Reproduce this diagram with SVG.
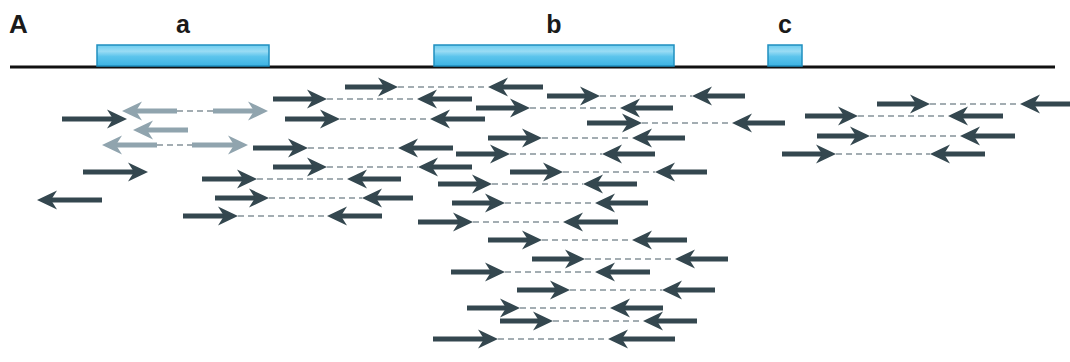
<svg xmlns="http://www.w3.org/2000/svg" width="1070" height="362" viewBox="0 0 1070 362">
  <style>
    .label { font-family: "Liberation Sans", Arial, sans-serif; font-weight: bold; fill: #1a1a1a; }
    .exon { fill: url(#exonFill); stroke: #1f8fbf; stroke-width: 1.5; }
    .axis { stroke: #111; stroke-width: 3; }
    .gap { stroke: #a3adb2; stroke-width: 2.2; stroke-dasharray: 6 4; fill: none; }
    .read { stroke: #34474f; stroke-width: 5; marker-end: url(#headDark); }
    .read.faint { stroke: #90a4ae; marker-end: url(#headFaint); }
  </style>
  <defs>
    <linearGradient id="exonFill" x1="0" y1="0" x2="0" y2="1">
      <stop offset="0" stop-color="#6ccdf0"/>
      <stop offset="0.3" stop-color="#9adcf4"/>
      <stop offset="0.55" stop-color="#5cc4ec"/>
      <stop offset="1" stop-color="#3db3e2"/>
    </linearGradient>
    <!-- barbed arrowhead; the shaft stops 12px short of the tip -->
    <marker id="headDark" viewBox="0 0 20 20" refX="8" refY="10" markerWidth="20" markerHeight="20" markerUnits="userSpaceOnUse" orient="auto">
      <path d="M0,0.5 L20,10 L0,19.5 L6,10 Z" fill="#34474f"/>
    </marker>
    <marker id="headFaint" viewBox="0 0 20 20" refX="8" refY="10" markerWidth="20" markerHeight="20" markerUnits="userSpaceOnUse" orient="auto">
      <path d="M0,0.5 L20,10 L0,19.5 L6,10 Z" fill="#90a4ae"/>
    </marker>
  </defs>

  <rect width="1070" height="362" fill="#ffffff"/>

  <text class="label" x="9" y="33" font-size="26">A</text>

  <line class="axis" x1="10" y1="67" x2="1055" y2="67"/>

  <g id="exon-a">
    <rect class="exon" x="97" y="45" width="172" height="21"/>
    <text class="label" x="183" y="33" font-size="25" text-anchor="middle">a</text>
  </g>
  <g id="exon-b">
    <rect class="exon" x="434" y="45" width="240" height="21"/>
    <text class="label" x="554" y="33" font-size="25" text-anchor="middle">b</text>
  </g>
  <g id="exon-c">
    <rect class="exon" x="768" y="45" width="34" height="21"/>
    <text class="label" x="785" y="33" font-size="25" text-anchor="middle">c</text>
  </g>

  <g id="reads">
    <!-- insert gaps between mates -->
    <g id="gaps">
      <line class="gap" x1="398" y1="87" x2="488" y2="87"/>
      <line class="gap" x1="600" y1="96" x2="692" y2="96"/>
      <line class="gap" x1="327" y1="99" x2="417" y2="99"/>
      <line class="gap" x1="530" y1="108" x2="620" y2="108"/>
      <line class="gap" x1="340" y1="119" x2="430" y2="119"/>
      <line class="gap" x1="642" y1="123" x2="732" y2="123"/>
      <line class="gap" x1="542" y1="138" x2="632" y2="138"/>
      <line class="gap" x1="308" y1="148" x2="398" y2="148"/>
      <line class="gap" x1="510" y1="154" x2="602" y2="154"/>
      <line class="gap" x1="327" y1="167" x2="418" y2="167"/>
      <line class="gap" x1="563" y1="172" x2="655" y2="172"/>
      <line class="gap" x1="257" y1="179" x2="347" y2="179"/>
      <line class="gap" x1="492" y1="184" x2="583" y2="184"/>
      <line class="gap" x1="269" y1="198" x2="362" y2="198"/>
      <line class="gap" x1="505" y1="203" x2="595" y2="203"/>
      <line class="gap" x1="238" y1="216" x2="327" y2="216"/>
      <line class="gap" x1="473" y1="222" x2="563" y2="222"/>
      <line class="gap" x1="542" y1="240" x2="632" y2="240"/>
      <line class="gap" x1="585" y1="259" x2="675" y2="259"/>
      <line class="gap" x1="505" y1="272" x2="595" y2="272"/>
      <line class="gap" x1="570" y1="290" x2="662" y2="290"/>
      <line class="gap" x1="520" y1="308" x2="610" y2="308"/>
      <line class="gap" x1="553" y1="321" x2="643" y2="321"/>
      <line class="gap" x1="498" y1="339" x2="608" y2="339"/>
      <line class="gap" x1="930" y1="104" x2="1020" y2="104"/>
      <line class="gap" x1="858" y1="116" x2="948" y2="116"/>
      <line class="gap" x1="870" y1="136" x2="960" y2="136"/>
      <line class="gap" x1="836" y1="154" x2="930" y2="154"/>
      <line class="gap" x1="177" y1="111" x2="213" y2="111"/>
      <line class="gap" x1="157" y1="145" x2="192" y2="145"/>
    </g>

    <!-- forward mates (shaft end = tip - 12) -->
    <g id="forward">
      <line class="read" x1="345" y1="87" x2="386" y2="87"/>
      <line class="read" x1="547" y1="96" x2="588" y2="96"/>
      <line class="read" x1="273" y1="99" x2="315" y2="99"/>
      <line class="read" x1="476" y1="108" x2="518" y2="108"/>
      <line class="read" x1="285" y1="119" x2="328" y2="119"/>
      <line class="read" x1="587" y1="123" x2="630" y2="123"/>
      <line class="read" x1="488" y1="138" x2="530" y2="138"/>
      <line class="read" x1="253" y1="148" x2="296" y2="148"/>
      <line class="read" x1="456" y1="154" x2="498" y2="154"/>
      <line class="read" x1="273" y1="167" x2="315" y2="167"/>
      <line class="read" x1="510" y1="172" x2="551" y2="172"/>
      <line class="read" x1="202" y1="179" x2="245" y2="179"/>
      <line class="read" x1="438" y1="184" x2="480" y2="184"/>
      <line class="read" x1="215" y1="198" x2="257" y2="198"/>
      <line class="read" x1="452" y1="203" x2="493" y2="203"/>
      <line class="read" x1="183" y1="216" x2="226" y2="216"/>
      <line class="read" x1="418" y1="222" x2="461" y2="222"/>
      <line class="read" x1="488" y1="240" x2="530" y2="240"/>
      <line class="read" x1="532" y1="259" x2="573" y2="259"/>
      <line class="read" x1="451" y1="272" x2="493" y2="272"/>
      <line class="read" x1="517" y1="290" x2="558" y2="290"/>
      <line class="read" x1="467" y1="308" x2="508" y2="308"/>
      <line class="read" x1="500" y1="321" x2="541" y2="321"/>
      <line class="read" x1="433" y1="339" x2="486" y2="339"/>
      <line class="read" x1="877" y1="104" x2="918" y2="104"/>
      <line class="read" x1="805" y1="116" x2="846" y2="116"/>
      <line class="read" x1="817" y1="136" x2="858" y2="136"/>
      <line class="read" x1="782" y1="154" x2="824" y2="154"/>
      <line class="read" x1="62" y1="119" x2="115" y2="119"/>
      <line class="read" x1="83" y1="172" x2="136" y2="172"/>
      <line class="read faint" x1="213" y1="111" x2="256" y2="111"/>
      <line class="read faint" x1="192" y1="145" x2="236" y2="145"/>
    </g>

    <!-- reverse mates (shaft end = tip + 12) -->
    <g id="reverse">
      <line class="read" x1="543" y1="87" x2="500" y2="87"/>
      <line class="read" x1="745" y1="96" x2="704" y2="96"/>
      <line class="read" x1="472" y1="99" x2="429" y2="99"/>
      <line class="read" x1="673" y1="108" x2="632" y2="108"/>
      <line class="read" x1="485" y1="119" x2="442" y2="119"/>
      <line class="read" x1="785" y1="123" x2="744" y2="123"/>
      <line class="read" x1="685" y1="138" x2="644" y2="138"/>
      <line class="read" x1="453" y1="148" x2="410" y2="148"/>
      <line class="read" x1="655" y1="154" x2="614" y2="154"/>
      <line class="read" x1="472" y1="167" x2="430" y2="167"/>
      <line class="read" x1="707" y1="172" x2="667" y2="172"/>
      <line class="read" x1="401" y1="179" x2="359" y2="179"/>
      <line class="read" x1="637" y1="184" x2="595" y2="184"/>
      <line class="read" x1="413" y1="198" x2="374" y2="198"/>
      <line class="read" x1="648" y1="203" x2="607" y2="203"/>
      <line class="read" x1="382" y1="216" x2="339" y2="216"/>
      <line class="read" x1="618" y1="222" x2="575" y2="222"/>
      <line class="read" x1="687" y1="240" x2="644" y2="240"/>
      <line class="read" x1="728" y1="259" x2="687" y2="259"/>
      <line class="read" x1="650" y1="272" x2="607" y2="272"/>
      <line class="read" x1="715" y1="290" x2="674" y2="290"/>
      <line class="read" x1="663" y1="308" x2="622" y2="308"/>
      <line class="read" x1="697" y1="321" x2="655" y2="321"/>
      <line class="read" x1="675" y1="339" x2="620" y2="339"/>
      <line class="read" x1="1075" y1="104" x2="1032" y2="104"/>
      <line class="read" x1="1003" y1="116" x2="960" y2="116"/>
      <line class="read" x1="1015" y1="136" x2="972" y2="136"/>
      <line class="read" x1="985" y1="154" x2="942" y2="154"/>
      <line class="read" x1="102" y1="200" x2="49" y2="200"/>
      <line class="read faint" x1="177" y1="111" x2="134" y2="111"/>
      <line class="read faint" x1="188" y1="130" x2="145" y2="130"/>
      <line class="read faint" x1="157" y1="145" x2="114" y2="145"/>
    </g>
  </g>
</svg>
